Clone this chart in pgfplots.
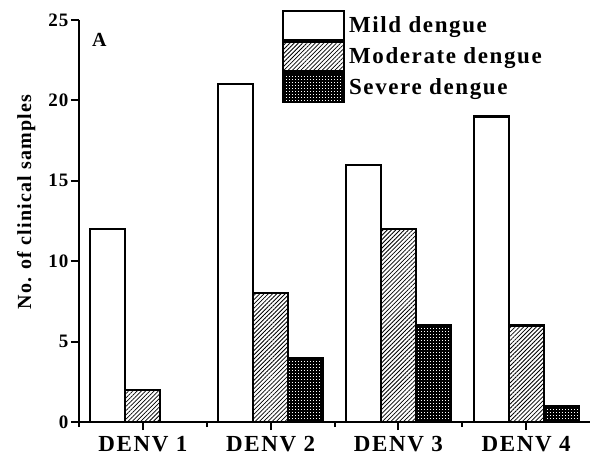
\documentclass[border=0pt]{standalone}
\usepackage{pgfplots}
\pgfplotsset{compat=1.18}
\usepackage{fontspec}
\setmainfont{Liberation Serif}
\newfontfamily\lsfont{Liberation Serif}[LetterSpace=7]
\newfontfamily\lsfontb{Liberation Serif}[LetterSpace=6]
\usetikzlibrary{patterns,patterns.meta}
\pgfdeclarepatternformonly{densegrid}{\pgfqpoint{-1pt}{-1pt}}{\pgfqpoint{4pt}{4pt}}{\pgfqpoint{3pt}{3pt}}{%
  \pgfsetlinewidth{1.1pt}%
  \pgfpathmoveto{\pgfqpoint{-1pt}{0pt}}\pgfpathlineto{\pgfqpoint{4pt}{0pt}}%
  \pgfpathmoveto{\pgfqpoint{0pt}{-1pt}}\pgfpathlineto{\pgfqpoint{0pt}{4pt}}%
  \pgfusepath{stroke}}
\begin{document}
\begin{tikzpicture}
\begin{axis}[name=ax,
  width=511pt, height=402pt, scale only axis,
  ymin=0, ymax=25, xmin=0.5, xmax=4.5,
  ytick={0,5,10,15,20,25},
  xtick={1,2,3,4}, xticklabels={DENV 1,DENV 2,DENV 3,DENV 4},
  minor xtick={0.5,1.5,2.5,3.5},
  axis lines*=left,
  axis line style={line width=2pt},
  tick align=outside,
  major tick length=8pt, minor tick length=5pt,
  every tick/.style={line width=2pt, black},
  /pgf/number format/assume math mode=true,
  yticklabel style={font=\fontsize{19}{21}\selectfont\lsfontb\bfseries, xshift=1pt},
  xticklabel style={font=\fontsize{23}{25}\selectfont\lsfont\bfseries, yshift=-3pt},
  ylabel={No. of clinical samples},
  ylabel style={font=\fontsize{20}{22}\selectfont\lsfontb\bfseries, at={(ticklabel cs:0.547)}, yshift=6pt},
  legend style={at={(rel axis cs:0.397,1.025)}, anchor=north west, draw=none, fill=none,
    font=\fontsize{23}{25}\selectfont\lsfont\bfseries, row sep=0pt, inner sep=0pt,
    nodes={inner sep=0pt}, column sep=4pt},
  legend cell align=left,
  legend image code/.code={\draw[#1, line width=2pt] (0pt,-14.5pt) rectangle (61pt,14.5pt);},
  clip=false,
]
\addplot[ybar, bar width=0.274, bar shift=-0.274, draw=black, line width=2.2pt, fill=white]
  coordinates {(1,12) (2,21) (3,16) (4,19)};
\addplot[ybar, bar width=0.274, bar shift=0, draw=black, line width=2.2pt,
  pattern={Lines[angle=45,distance=3pt,line width=0.8pt]}]
  coordinates {(1,2) (2,8) (3,12) (4,6)};
\addplot[ybar, bar width=0.274, bar shift=0.274, draw=black, line width=2.2pt, pattern=densegrid]
  coordinates {(1,0) (2,4) (3,6) (4,1)};
\legend{Mild dengue, Moderate dengue, Severe dengue}
\node[font=\fontsize{20}{22}\selectfont\bfseries] at (axis cs:0.66,23.75) {A};
\end{axis}
\pgfresetboundingbox
\path ([shift={(-79pt,-34pt)}]ax.south west) rectangle ([shift={(517pt,422pt)}]ax.south west);
\end{tikzpicture}
\end{document}
